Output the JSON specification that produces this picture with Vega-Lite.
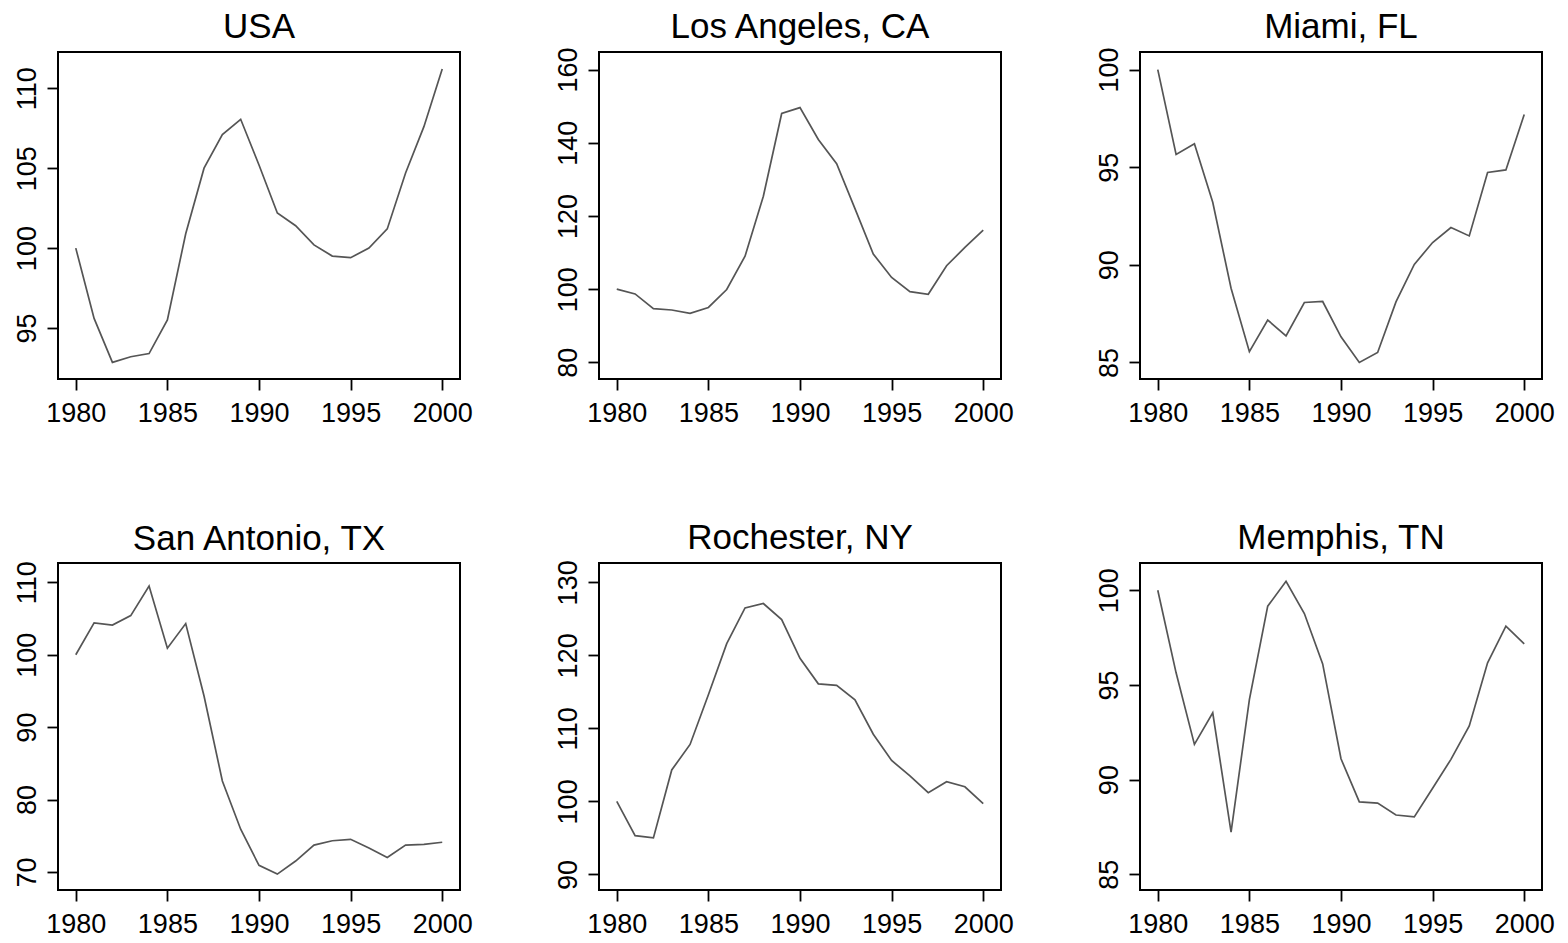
{
  "$schema": "https://vega.github.io/schema/vega-lite/v6.json",
  "padding": {"left": 12, "top": 9, "right": 0, "bottom": 0},
  "background": "white",
  "data": {"values": [
    {"city":"USA","year":1980,"value":100.0},{"city":"USA","year":1981,"value":95.6},{"city":"USA","year":1982,"value":92.85},{"city":"USA","year":1983,"value":93.2},{"city":"USA","year":1984,"value":93.4},{"city":"USA","year":1985,"value":95.5},{"city":"USA","year":1986,"value":100.9},{"city":"USA","year":1987,"value":105.0},{"city":"USA","year":1988,"value":107.1},{"city":"USA","year":1989,"value":108.06},{"city":"USA","year":1990,"value":105.2},{"city":"USA","year":1991,"value":102.2},{"city":"USA","year":1992,"value":101.4},{"city":"USA","year":1993,"value":100.2},{"city":"USA","year":1994,"value":99.5},{"city":"USA","year":1995,"value":99.4},{"city":"USA","year":1996,"value":100.0},{"city":"USA","year":1997,"value":101.2},{"city":"USA","year":1998,"value":104.7},{"city":"USA","year":1999,"value":107.6},{"city":"USA","year":2000,"value":111.2},
    {"city":"Los Angeles, CA","year":1980,"value":100.0},{"city":"Los Angeles, CA","year":1981,"value":98.7},{"city":"Los Angeles, CA","year":1982,"value":94.7},{"city":"Los Angeles, CA","year":1983,"value":94.3},{"city":"Los Angeles, CA","year":1984,"value":93.4},{"city":"Los Angeles, CA","year":1985,"value":95.0},{"city":"Los Angeles, CA","year":1986,"value":99.9},{"city":"Los Angeles, CA","year":1987,"value":109.0},{"city":"Los Angeles, CA","year":1988,"value":125.4},{"city":"Los Angeles, CA","year":1989,"value":148.0},{"city":"Los Angeles, CA","year":1990,"value":149.6},{"city":"Los Angeles, CA","year":1991,"value":140.9},{"city":"Los Angeles, CA","year":1992,"value":134.3},{"city":"Los Angeles, CA","year":1993,"value":122.0},{"city":"Los Angeles, CA","year":1994,"value":109.6},{"city":"Los Angeles, CA","year":1995,"value":103.2},{"city":"Los Angeles, CA","year":1996,"value":99.3},{"city":"Los Angeles, CA","year":1997,"value":98.6},{"city":"Los Angeles, CA","year":1998,"value":106.4},{"city":"Los Angeles, CA","year":1999,"value":111.4},{"city":"Los Angeles, CA","year":2000,"value":116.1},
    {"city":"Miami, FL","year":1980,"value":100.0},{"city":"Miami, FL","year":1981,"value":95.65},{"city":"Miami, FL","year":1982,"value":96.2},{"city":"Miami, FL","year":1983,"value":93.2},{"city":"Miami, FL","year":1984,"value":88.8},{"city":"Miami, FL","year":1985,"value":85.55},{"city":"Miami, FL","year":1986,"value":87.17},{"city":"Miami, FL","year":1987,"value":86.36},{"city":"Miami, FL","year":1988,"value":88.07},{"city":"Miami, FL","year":1989,"value":88.12},{"city":"Miami, FL","year":1990,"value":86.31},{"city":"Miami, FL","year":1991,"value":85.0},{"city":"Miami, FL","year":1992,"value":85.51},{"city":"Miami, FL","year":1993,"value":88.1},{"city":"Miami, FL","year":1994,"value":90.02},{"city":"Miami, FL","year":1995,"value":91.14},{"city":"Miami, FL","year":1996,"value":91.91},{"city":"Miami, FL","year":1997,"value":91.48},{"city":"Miami, FL","year":1998,"value":94.73},{"city":"Miami, FL","year":1999,"value":94.86},{"city":"Miami, FL","year":2000,"value":97.7},
    {"city":"San Antonio, TX","year":1980,"value":100.0},{"city":"San Antonio, TX","year":1981,"value":104.4},{"city":"San Antonio, TX","year":1982,"value":104.1},{"city":"San Antonio, TX","year":1983,"value":105.4},{"city":"San Antonio, TX","year":1984,"value":109.5},{"city":"San Antonio, TX","year":1985,"value":100.9},{"city":"San Antonio, TX","year":1986,"value":104.3},{"city":"San Antonio, TX","year":1987,"value":94.3},{"city":"San Antonio, TX","year":1988,"value":82.55},{"city":"San Antonio, TX","year":1989,"value":75.9},{"city":"San Antonio, TX","year":1990,"value":70.9},{"city":"San Antonio, TX","year":1991,"value":69.7},{"city":"San Antonio, TX","year":1992,"value":71.5},{"city":"San Antonio, TX","year":1993,"value":73.7},{"city":"San Antonio, TX","year":1994,"value":74.3},{"city":"San Antonio, TX","year":1995,"value":74.5},{"city":"San Antonio, TX","year":1996,"value":73.3},{"city":"San Antonio, TX","year":1997,"value":72.0},{"city":"San Antonio, TX","year":1998,"value":73.7},{"city":"San Antonio, TX","year":1999,"value":73.8},{"city":"San Antonio, TX","year":2000,"value":74.1},
    {"city":"Rochester, NY","year":1980,"value":100.0},{"city":"Rochester, NY","year":1981,"value":95.3},{"city":"Rochester, NY","year":1982,"value":95.0},{"city":"Rochester, NY","year":1983,"value":104.3},{"city":"Rochester, NY","year":1984,"value":107.8},{"city":"Rochester, NY","year":1985,"value":114.6},{"city":"Rochester, NY","year":1986,"value":121.6},{"city":"Rochester, NY","year":1987,"value":126.5},{"city":"Rochester, NY","year":1988,"value":127.1},{"city":"Rochester, NY","year":1989,"value":124.9},{"city":"Rochester, NY","year":1990,"value":119.6},{"city":"Rochester, NY","year":1991,"value":116.1},{"city":"Rochester, NY","year":1992,"value":115.9},{"city":"Rochester, NY","year":1993,"value":113.9},{"city":"Rochester, NY","year":1994,"value":109.2},{"city":"Rochester, NY","year":1995,"value":105.6},{"city":"Rochester, NY","year":1996,"value":103.5},{"city":"Rochester, NY","year":1997,"value":101.2},{"city":"Rochester, NY","year":1998,"value":102.7},{"city":"Rochester, NY","year":1999,"value":102.0},{"city":"Rochester, NY","year":2000,"value":99.7},
    {"city":"Memphis, TN","year":1980,"value":100.0},{"city":"Memphis, TN","year":1981,"value":95.64},{"city":"Memphis, TN","year":1982,"value":91.86},{"city":"Memphis, TN","year":1983,"value":93.53},{"city":"Memphis, TN","year":1984,"value":87.23},{"city":"Memphis, TN","year":1985,"value":94.23},{"city":"Memphis, TN","year":1986,"value":99.16},{"city":"Memphis, TN","year":1987,"value":100.47},{"city":"Memphis, TN","year":1988,"value":98.77},{"city":"Memphis, TN","year":1989,"value":96.11},{"city":"Memphis, TN","year":1990,"value":91.1},{"city":"Memphis, TN","year":1991,"value":88.82},{"city":"Memphis, TN","year":1992,"value":88.76},{"city":"Memphis, TN","year":1993,"value":88.13},{"city":"Memphis, TN","year":1994,"value":88.03},{"city":"Memphis, TN","year":1995,"value":89.54},{"city":"Memphis, TN","year":1996,"value":91.07},{"city":"Memphis, TN","year":1997,"value":92.83},{"city":"Memphis, TN","year":1998,"value":96.17},{"city":"Memphis, TN","year":1999,"value":98.1},{"city":"Memphis, TN","year":2000,"value":97.17}
  ]},
  "columns": 3,
  "bounds": "flush",
  "spacing": {"row": 184, "column": 139},
  "concat": [
    {
      "width": 402, "height": 327,
      "title": {"text": "USA", "offset": 6.7},
      "transform": [{"filter": "datum.city === 'USA'"}],
      "mark": {"type": "line", "color": "#555555", "strokeWidth": 1.7},
      "encoding": {
        "x": {"field": "year", "type": "quantitative", "scale": {"domain": [1979.03, 2000.97], "nice": false, "zero": false}, "axis": {"values": [1980, 1985, 1990, 1995, 2000]}},
        "y": {"field": "value", "type": "quantitative", "scale": {"domain": [91.81, 112.27], "nice": false, "zero": false}, "axis": {"values": [95, 100, 105, 110]}}
      }
    },
    {
      "width": 402, "height": 327,
      "title": {"text": "Los Angeles, CA", "offset": 1.8},
      "transform": [{"filter": "datum.city === 'Los Angeles, CA'"}],
      "mark": {"type": "line", "color": "#555555", "strokeWidth": 1.7},
      "encoding": {
        "x": {"field": "year", "type": "quantitative", "scale": {"domain": [1979.03, 2000.97], "nice": false, "zero": false}, "axis": {"values": [1980, 1985, 1990, 1995, 2000]}},
        "y": {"field": "value", "type": "quantitative", "scale": {"domain": [75.45, 164.8], "nice": false, "zero": false}, "axis": {"values": [80, 100, 120, 140, 160]}}
      }
    },
    {
      "width": 402, "height": 327,
      "title": {"text": "Miami, FL", "offset": 1.8},
      "transform": [{"filter": "datum.city === 'Miami, FL'"}],
      "mark": {"type": "line", "color": "#555555", "strokeWidth": 1.7},
      "encoding": {
        "x": {"field": "year", "type": "quantitative", "scale": {"domain": [1979.03, 2000.97], "nice": false, "zero": false}, "axis": {"values": [1980, 1985, 1990, 1995, 2000]}},
        "y": {"field": "value", "type": "quantitative", "scale": {"domain": [84.15, 100.9], "nice": false, "zero": false}, "axis": {"values": [85, 90, 95, 100]}}
      }
    },
    {
      "width": 402, "height": 327,
      "title": {"text": "San Antonio, TX", "offset": 3.5},
      "transform": [{"filter": "datum.city === 'San Antonio, TX'"}],
      "mark": {"type": "line", "color": "#555555", "strokeWidth": 1.7},
      "encoding": {
        "x": {"field": "year", "type": "quantitative", "scale": {"domain": [1979.03, 2000.97], "nice": false, "zero": false}, "axis": {"values": [1980, 1985, 1990, 1995, 2000]}},
        "y": {"field": "value", "type": "quantitative", "scale": {"domain": [67.5, 112.67], "nice": false, "zero": false}, "axis": {"values": [70, 80, 90, 100, 110]}}
      }
    },
    {
      "width": 402, "height": 327,
      "title": {"text": "Rochester, NY", "offset": 3.5},
      "transform": [{"filter": "datum.city === 'Rochester, NY'"}],
      "mark": {"type": "line", "color": "#555555", "strokeWidth": 1.7},
      "encoding": {
        "x": {"field": "year", "type": "quantitative", "scale": {"domain": [1979.03, 2000.97], "nice": false, "zero": false}, "axis": {"values": [1980, 1985, 1990, 1995, 2000]}},
        "y": {"field": "value", "type": "quantitative", "scale": {"domain": [87.86, 132.65], "nice": false, "zero": false}, "axis": {"values": [90, 100, 110, 120, 130]}}
      }
    },
    {
      "width": 402, "height": 327,
      "title": {"text": "Memphis, TN", "offset": 6.7},
      "transform": [{"filter": "datum.city === 'Memphis, TN'"}],
      "mark": {"type": "line", "color": "#555555", "strokeWidth": 1.7},
      "encoding": {
        "x": {"field": "year", "type": "quantitative", "scale": {"domain": [1979.03, 2000.97], "nice": false, "zero": false}, "axis": {"values": [1980, 1985, 1990, 1995, 2000]}},
        "y": {"field": "value", "type": "quantitative", "scale": {"domain": [84.17, 101.44], "nice": false, "zero": false}, "axis": {"values": [85, 90, 95, 100]}}
      }
    }
  ],
  "config": {
    "view": {"stroke": "black", "strokeWidth": 2},
    "title": {"font": "Liberation Sans", "fontSize": 35, "fontWeight": "normal", "color": "black", "anchor": "middle", "baseline": "alphabetic"},
    "axis": {"domain": false, "grid": false, "title": null, "ticks": true, "tickColor": "black", "tickSize": 11, "tickWidth": 1.8, "labelFont": "Liberation Sans", "labelFontSize": 27, "labelColor": "black", "format": "d", "labelOverlap": false, "labelFlush": false},
    "axisX": {"labelPadding": 10, "labelBaseline": "top"},
    "axisY": {"labelAngle": -90, "labelAlign": "center", "labelBaseline": "alphabetic", "labelPadding": 12}
  }
}
